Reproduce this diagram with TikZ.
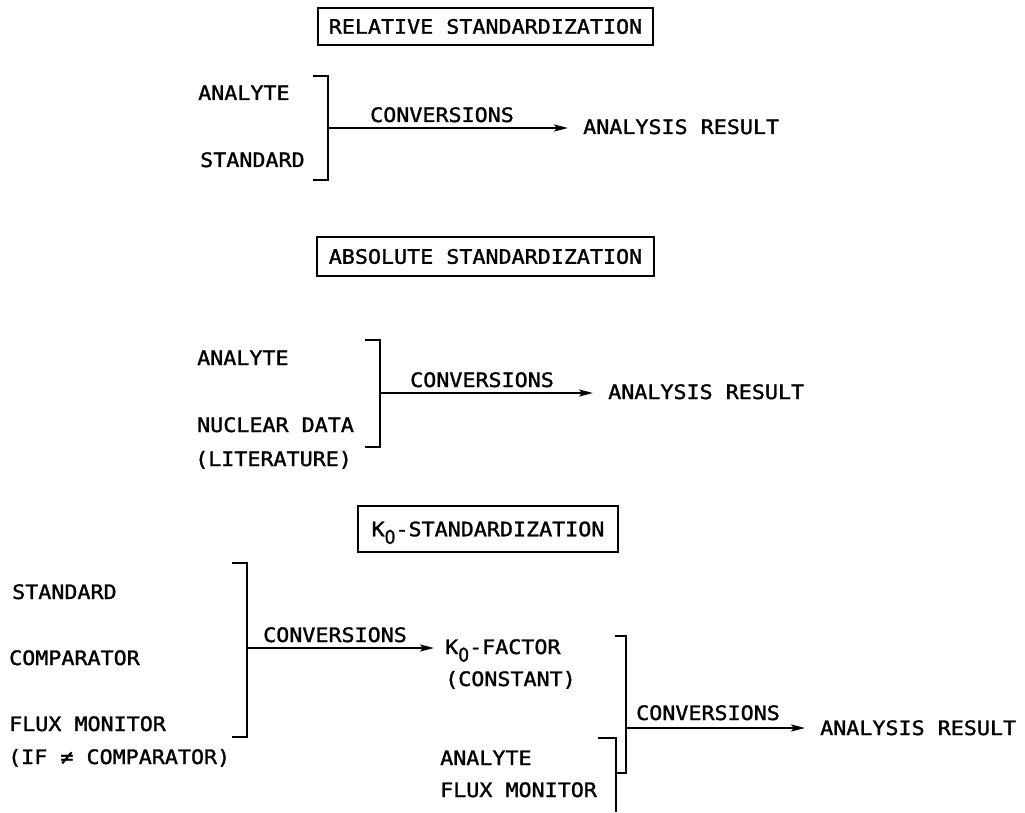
\documentclass[tikz,border=0pt]{standalone}
\usepackage{fontspec}
\setmonofont[FakeStretch=1.09,FakeBold=1.4]{DejaVu Sans Mono}
\newfontfamily\subfont[FakeStretch=0.9,FakeBold=1.4]{DejaVu Sans}
\usetikzlibrary{arrows.meta}
\newcommand\plotfont{\ttfamily\fontsize{19.9}{24}\selectfont}
\newcommand\kzero{K\raisebox{-0.7ex}{\subfont\fontsize{19}{19}\selectfont 0}}
\begin{document}
\begin{tikzpicture}[x=1pt,y=-1pt,
  lbl/.style={anchor=base west, inner sep=0pt, font=\plotfont},
  titlebox/.style={draw, line width=1.7pt, inner sep=0pt, anchor=center,
    text height=14.5pt, text depth=0pt, font=\plotfont},
  brk/.style={line width=2pt, line join=miter},
  flow/.style={line width=2pt, shorten >=15pt,
    -{Stealth[length=14pt,width=7pt,inset=3pt]}},
]
\fill[white] (0,0) rectangle (1025,809);

% ---------- relative standardization ----------
\node[titlebox, minimum width=335pt, minimum height=37pt] (h1) at (485.5,26.5)
  {RELATIVE STANDARDIZATION};
\node[lbl] (a1) at (198,100) {ANALYTE};
\node[lbl] (s1) at (200,167) {STANDARD};
\coordinate (b1t) at (328,76);
\coordinate (b1b) at (328,180);
\coordinate (j1) at (328,128);
\draw[brk] ([xshift=-15pt]b1t) -- (b1t) -- (b1b) -- ([xshift=-15pt]b1b);
\node[lbl] (c1) at (370,122) {CONVERSIONS};
\node[lbl] (r1) at (583,134) {ANALYSIS RESULT};
\draw[flow] (j1) -- (r1.west |- j1);

% ---------- absolute standardization ----------
\node[titlebox, minimum width=337pt, minimum height=39pt] (h2) at (485.5,256.5)
  {ABSOLUTE STANDARDIZATION};
\node[lbl] (a2) at (197,365) {ANALYTE};
\node[lbl] (n2) at (197,432) {NUCLEAR DATA};
\node[lbl] (l2) at (195,466) {(LITERATURE)};
\coordinate (b2t) at (380,340);
\coordinate (b2b) at (380,447);
\coordinate (j2) at (380,393);
\draw[brk] ([xshift=-15pt]b2t) -- (b2t) -- (b2b) -- ([xshift=-15pt]b2b);
\node[lbl] (c2) at (410,387) {CONVERSIONS};
\node[lbl] (r2) at (608,399) {ANALYSIS RESULT};
\draw[flow] (j2) -- (r2.west |- j2);

% ---------- k0 standardization ----------
\node[titlebox, minimum width=260pt, minimum height=46pt] (h3) at (488,529)
  {\kzero-STANDARDIZATION};
\node[lbl] (s3) at (12,599) {STANDARD};
\node[lbl] (m3) at (9,665) {COMPARATOR};
\node[lbl] (f3) at (9,731) {FLUX MONITOR};
\node[lbl] (i3) at (8,764) {(IF ≠ COMPARATOR)};
\coordinate (b3t) at (247,563);
\coordinate (b3b) at (247,737);
\coordinate (j3) at (247,648);
\draw[brk] ([xshift=-15pt]b3t) -- (b3t) -- (b3b) -- ([xshift=-15pt]b3b);
\node[lbl] (c3) at (263,642) {CONVERSIONS};
\node[lbl] (k3) at (445,654) {\kzero-FACTOR};
\node[lbl] (q3) at (445,686) {(CONSTANT)};
\draw[flow, shorten >=11pt] (j3) -- (k3.west |- j3);

% second stage: k0-factor together with analyte and flux monitor
\node[lbl] (a4) at (440,765) {ANALYTE};
\node[lbl] (f4) at (440,797) {FLUX MONITOR};
\coordinate (b5t) at (616,738);
\coordinate (b5b) at (616,812);
\draw[brk] ([xshift=-18pt]b5t) -- (b5t) -- (b5b);
\coordinate (b4t) at (626,636);
\coordinate (b4b) at (626,773);
\draw[brk] ([xshift=-11pt]b4t) -- (b4t) -- (b4b) -- (b4b -| b5t);
\coordinate (j4) at (626,728);
\node[lbl] (c4) at (636,720) {CONVERSIONS};
\node[lbl] (r4) at (820,735) {ANALYSIS RESULT};
\draw[flow] (j4) -- (r4.west |- j4);
\end{tikzpicture}
\end{document}
